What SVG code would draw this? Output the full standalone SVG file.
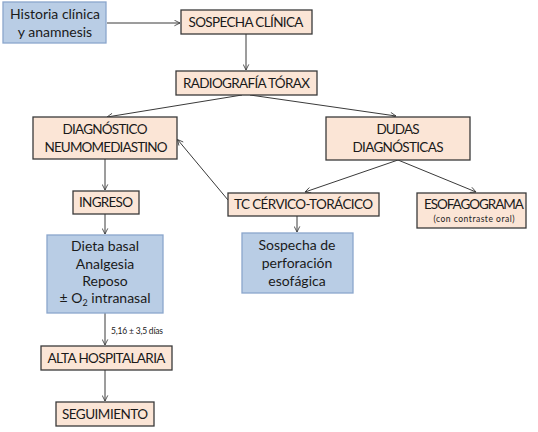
<svg xmlns="http://www.w3.org/2000/svg" width="538" height="432" viewBox="0 0 538 432">
<defs>
<style>
.p{fill:#fbe5d6;stroke:#3a3a3a;stroke-width:1.3}
.b{fill:#b9cde5;stroke:#8aa6cc;stroke-width:1.3}
text{font-family:Lato,"Open Sans","Liberation Sans",sans-serif;font-size:14px;fill:#1a1a1a;text-anchor:middle}
.k{font-size:13.5px}
.s{font-size:8.5px}
.c line{stroke:#3a3a3a;stroke-width:1;marker-end:url(#a)}
</style>
<marker id="a" viewBox="0 0 10 10" refX="9" refY="5" markerWidth="7" markerHeight="7" orient="auto" markerUnits="userSpaceOnUse">
<path d="M1,1 L9,5 L1,9" fill="none" stroke="#3a3a3a" stroke-width="1.2"/>
</marker>
</defs>
<rect width="538" height="432" fill="#fff"/>
<g class="c">
<line x1="107" y1="23" x2="180" y2="23"/>
<line x1="246" y1="34" x2="246" y2="70"/>
<line x1="242" y1="95" x2="107" y2="117"/>
<line x1="250" y1="95" x2="396" y2="116"/>
<line x1="398" y1="160" x2="305" y2="192"/>
<line x1="398" y1="160" x2="476" y2="192"/>
<line x1="297" y1="216" x2="297" y2="232"/>
<line x1="228" y1="200" x2="177.5" y2="139.5"/>
<line x1="105" y1="159" x2="105" y2="190"/>
<line x1="105" y1="214" x2="105" y2="234"/>
<line x1="105" y1="313" x2="105" y2="345"/>
<line x1="105" y1="370" x2="105" y2="401"/>
</g>
<g id="historia"><rect class="b" x="3" y="2" width="103" height="41"/><text x="55" y="19">Historia clínica</text><text x="55" y="37">y anamnesis</text></g>
<g id="sospecha"><rect class="p" x="181" y="10" width="131" height="24"/><text class="k" x="246" y="27" textLength="115">SOSPECHA CLÍNICA</text></g>
<g id="radiografia"><rect class="p" x="176" y="71" width="141" height="24"/><text class="k" x="246.5" y="88" textLength="127">RADIOGRAFÍA TÓRAX</text></g>
<g id="diagnostico"><rect class="p" x="33" y="117" width="144" height="42"/><text class="k" x="105" y="134" textLength="85">DIAGNÓSTICO</text><text class="k" x="106" y="152" textLength="123">NEUMOMEDIASTINO</text></g>
<g id="dudas"><rect class="p" x="326" y="117" width="144" height="43"/><text class="k" x="398" y="134" textLength="43">DUDAS</text><text class="k" x="398" y="152" textLength="91">DIAGNÓSTICAS</text></g>
<g id="tc"><rect class="p" x="228" y="193" width="151" height="23"/><text class="k" x="303.5" y="209" textLength="139">TC CÉRVICO-TORÁCICO</text></g>
<g id="esofagograma"><rect class="p" x="417" y="193" width="109" height="35"/><text class="k" x="474" y="209" textLength="100">ESOFAGOGRAMA</text><text class="s" x="474" y="222" textLength="81">(con contraste oral)</text></g>
<g id="perforacion"><rect class="b" x="242" y="233" width="111" height="60"/><text x="297" y="250">Sospecha de</text><text x="297" y="268">perforación</text><text x="297" y="286">esofágica</text></g>
<g id="ingreso"><rect class="p" x="73" y="191" width="66" height="23"/><text class="k" x="106" y="207" textLength="54">INGRESO</text></g>
<g id="tratamiento"><rect class="b" x="47" y="235" width="116" height="78"/><text x="105" y="251">Dieta basal</text><text x="105" y="269">Analgesia</text><text x="105" y="286">Reposo</text><text x="105" y="303">± O<tspan font-size="9" dy="3">2</tspan><tspan dy="-3"> intranasal</tspan></text></g>
<text class="s" x="111" y="334" style="text-anchor:start" textLength="52">5,16 ± 3,5 días</text>
<g id="alta"><rect class="p" x="41" y="346" width="131" height="24"/><text class="k" x="106.5" y="363" textLength="118">ALTA HOSPITALARIA</text></g>
<g id="seguimiento"><rect class="p" x="56" y="402" width="98" height="24"/><text class="k" x="105" y="419" textLength="86">SEGUIMIENTO</text></g>
</svg>
